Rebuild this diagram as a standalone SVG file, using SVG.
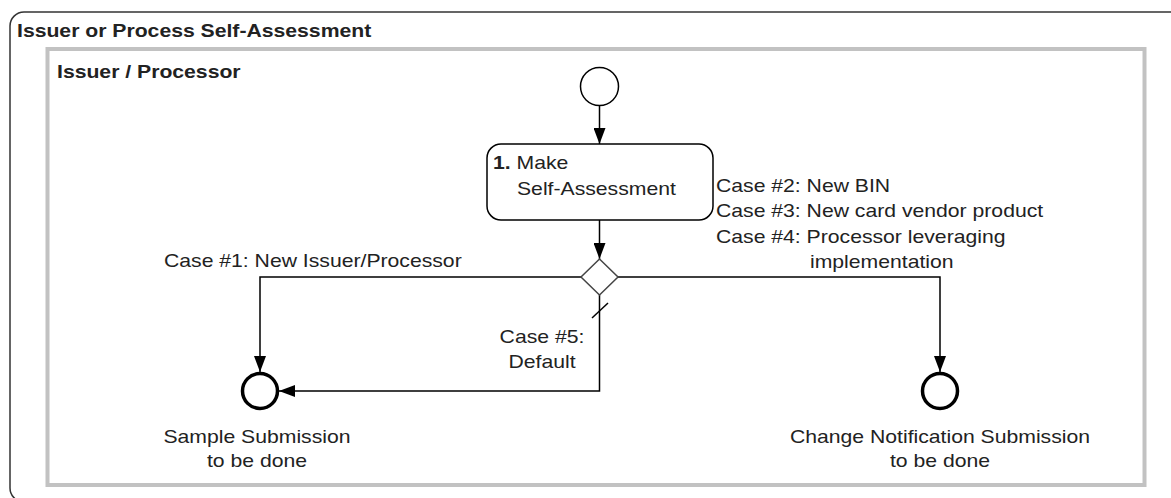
<svg xmlns="http://www.w3.org/2000/svg" width="1171" height="498" viewBox="0 0 1171 498">
<defs>
<style>
.t{font-family:"Liberation Sans",Arial,sans-serif;font-size:19px;fill:#222}
.b{font-weight:bold}
.m{text-anchor:middle}
.c{fill:none;stroke:#000;stroke-width:1.5}
</style>
<marker id="ah" viewBox="0 0 16 12" refX="16" refY="6" markerWidth="16" markerHeight="12" markerUnits="userSpaceOnUse" orient="auto">
<path d="M0,0 L16,6 L0,12 z" fill="#000"/>
</marker>
</defs>
<rect width="1171" height="498" fill="#fff"/>
<g id="pool">
<rect x="10" y="12" width="1175" height="490" rx="14" fill="none" stroke="#333" stroke-width="1.5"/>
<g transform="translate(17,37) scale(1.115,1)"><text class="t b" x="0" y="0">Issuer or Process Self-Assessment</text></g>
</g>
<g id="lane">
<rect x="47.5" y="49" width="1097" height="436" fill="none" stroke="#c2c2c2" stroke-width="4"/>
<g transform="translate(57,78) scale(1.115,1)"><text class="t b" x="0" y="0">Issuer / Processor</text></g>
</g>
<g id="connectors">
<path class="c" d="M599.5,106 V144" marker-end="url(#ah)"/>
<path class="c" d="M599.5,220 V259" marker-end="url(#ah)"/>
<path class="c" d="M581,277 H260 V372" marker-end="url(#ah)"/>
<path class="c" d="M618,277 H940 V372" marker-end="url(#ah)"/>
<path class="c" d="M599.5,295 V391 H279" marker-end="url(#ah)"/>
<path class="c" d="M592,318 L608,303"/>
</g>
<g id="start">
<circle cx="599.5" cy="86.5" r="19" fill="#fff" stroke="#000" stroke-width="1.5"/>
</g>
<g id="task1">
<rect x="487" y="144" width="226" height="76" rx="14" fill="#fff" stroke="#000" stroke-width="1.5"/>
<g transform="translate(493,169) scale(1.115,1)"><text class="t" x="0" y="0"><tspan class="b">1.</tspan> Make</text></g>
<g transform="translate(517,195) scale(1.115,1)"><text class="t" x="0" y="0">Self-Assessment</text></g>
</g>
<g id="gateway">
<polygon points="599.5,259 618,277 599.5,295 581,277" fill="#fff" stroke="#444" stroke-width="1.5"/>
</g>
<g id="labels">
<g transform="translate(716,192) scale(1.115,1)"><text class="t" x="0" y="0">Case #2: New BIN</text></g>
<g transform="translate(716,217) scale(1.115,1)"><text class="t" x="0" y="0">Case #3: New card vendor product</text></g>
<g transform="translate(716,243) scale(1.115,1)"><text class="t" x="0" y="0">Case #4: Processor leveraging</text></g>
<g transform="translate(810,268) scale(1.115,1)"><text class="t" x="0" y="0">implementation</text></g>
<g transform="translate(164,267) scale(1.115,1)"><text class="t" x="0" y="0">Case #1: New Issuer/Processor</text></g>
<g transform="translate(542,343) scale(1.115,1)"><text class="t m" x="0" y="0">Case #5:</text></g>
<g transform="translate(542,368) scale(1.115,1)"><text class="t m" x="0" y="0">Default</text></g>
</g>
<g id="end-sample">
<circle cx="260" cy="391" r="17.5" fill="#fff" stroke="#000" stroke-width="3.5"/>
<g transform="translate(257,443) scale(1.115,1)"><text class="t m" x="0" y="0">Sample Submission</text></g>
<g transform="translate(257,467) scale(1.115,1)"><text class="t m" x="0" y="0">to be done</text></g>
</g>
<g id="end-change">
<circle cx="940" cy="391" r="17.5" fill="#fff" stroke="#000" stroke-width="3.5"/>
<g transform="translate(940,443) scale(1.115,1)"><text class="t m" x="0" y="0">Change Notification Submission</text></g>
<g transform="translate(940,467) scale(1.115,1)"><text class="t m" x="0" y="0">to be done</text></g>
</g>
</svg>
